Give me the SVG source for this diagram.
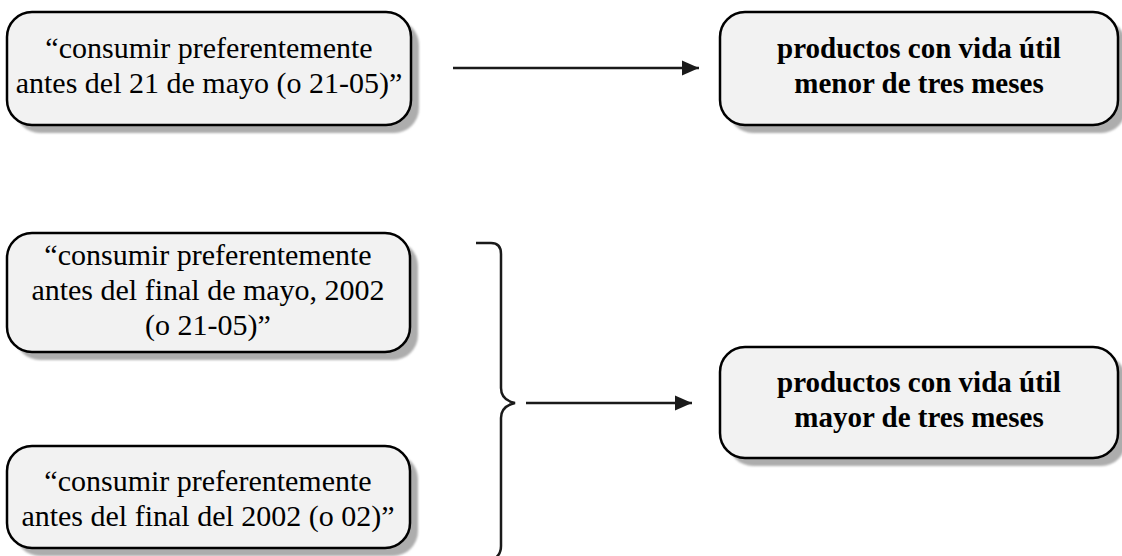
<svg xmlns="http://www.w3.org/2000/svg" width="1122" height="556" viewBox="0 0 1122 556">
<style>
.shadow{fill:#adadad;filter:url(#blur)}
.box{fill:#f2f2f2;stroke:#000;stroke-width:2.5}
.t{font-family:"Liberation Serif","Times New Roman",serif;font-size:30px;fill:#000;text-anchor:middle}
.b{font-weight:bold;font-size:29px}
.conn{stroke:#1a1a1a;stroke-width:2.5;fill:none}
</style>
<defs>
<filter id="blur" x="-5%" y="-5%" width="110%" height="110%"><feGaussianBlur stdDeviation="1"/></filter>
<marker id="arr" markerUnits="userSpaceOnUse" markerWidth="18" markerHeight="16" refX="17" refY="8" orient="auto">
<path d="M0,0.5 L17,8 L0,15.5 Z" fill="#1a1a1a"/>
</marker>
</defs>
<g id="n1">
<rect class="shadow" x="15" y="20" width="404" height="113" rx="25"/>
<rect class="box" x="7" y="12" width="404" height="113" rx="25"/>
<text class="t" x="209" y="58">“consumir preferentemente</text>
<text class="t" x="209" y="93">antes del 21 de mayo (o 21-05)”</text>
</g>
<g id="n2">
<rect class="shadow" x="728" y="20" width="398" height="113" rx="25"/>
<rect class="box" x="720" y="12" width="398" height="113" rx="25"/>
<text class="t b" x="919" y="58">productos con vida útil</text>
<text class="t b" x="919" y="93">menor de tres meses</text>
</g>
<g id="n3">
<rect class="shadow" x="15" y="241" width="403" height="119" rx="25"/>
<rect class="box" x="7" y="233" width="403" height="119" rx="25"/>
<text class="t" x="208" y="265">“consumir preferentemente</text>
<text class="t" x="208" y="300">antes del final de mayo, 2002</text>
<text class="t" x="208" y="335">(o 21-05)”</text>
</g>
<g id="n4">
<rect class="shadow" x="15" y="454" width="403" height="102" rx="25"/>
<rect class="box" x="7" y="446" width="403" height="102" rx="25"/>
<text class="t" x="208" y="491">“consumir preferentemente</text>
<text class="t" x="208" y="526">antes del final del 2002 (o 02)”</text>
</g>
<g id="n5">
<rect class="shadow" x="728" y="355" width="398" height="111" rx="25"/>
<rect class="box" x="720" y="347" width="398" height="111" rx="25"/>
<text class="t b" x="919" y="392">productos con vida útil</text>
<text class="t b" x="919" y="427">mayor de tres meses</text>
</g>
<g id="connectors">
<line class="conn" x1="453" y1="68" x2="699" y2="68" marker-end="url(#arr)"/>
<path class="conn" d="M476,243 H491 Q501,243 501,254 V388 Q501,400 515,403 Q501,406 501,418 V546 Q501,556 492,560"/>
<line class="conn" x1="526" y1="403" x2="692" y2="403" marker-end="url(#arr)"/>
</g>
</svg>
